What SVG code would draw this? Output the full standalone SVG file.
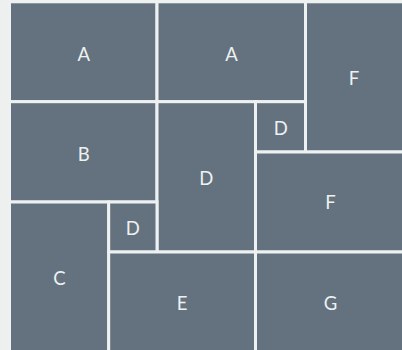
<svg xmlns="http://www.w3.org/2000/svg" width="402" height="350" viewBox="0 0 402 350">
<style>
.c{fill:#63727e;stroke:#eef1f1;stroke-width:3}
.t{font-family:Lato,"Open Sans","Liberation Sans",sans-serif;font-size:18.5px;fill:#eef1f1;text-anchor:middle}
</style>
<rect x="0" y="0" width="402" height="350" fill="#eef0ef"/>
<g id="a1"><rect class="c" x="9.5" y="1.8" width="147.5" height="99.9"/><text class="t" x="83.8" y="61">A</text></g>
<g id="a2"><rect class="c" x="157" y="1.8" width="148.5" height="99.9"/><text class="t" x="231.5" y="61">A</text></g>
<g id="f1"><rect class="c" x="305.5" y="1.8" width="98.5" height="150.2"/><text class="t" x="354" y="85">F</text></g>
<g id="b"><rect class="c" x="9.5" y="101.7" width="147.5" height="100.3"/><text class="t" x="83.8" y="161">B</text></g>
<g id="d1"><rect class="c" x="157" y="101.7" width="98.5" height="150.3"/><text class="t" x="206.2" y="185">D</text></g>
<g id="d2"><rect class="c" x="255.5" y="101.7" width="50" height="50.3"/><text class="t" x="280.8" y="135">D</text></g>
<g id="f2"><rect class="c" x="255.5" y="152" width="148.5" height="100"/><text class="t" x="330.5" y="209">F</text></g>
<g id="c"><rect class="c" x="9.5" y="202" width="99.2" height="150"/><text class="t" x="59.5" y="285">C</text></g>
<g id="d3"><rect class="c" x="108.7" y="202" width="48.3" height="50"/><text class="t" x="132.8" y="235">D</text></g>
<g id="e"><rect class="c" x="108.7" y="252" width="146.8" height="100"/><text class="t" x="182" y="310">E</text></g>
<g id="g"><rect class="c" x="255.5" y="252" width="148.5" height="100"/><text class="t" x="330.5" y="310">G</text></g>
<g id="connectors"/>
</svg>
